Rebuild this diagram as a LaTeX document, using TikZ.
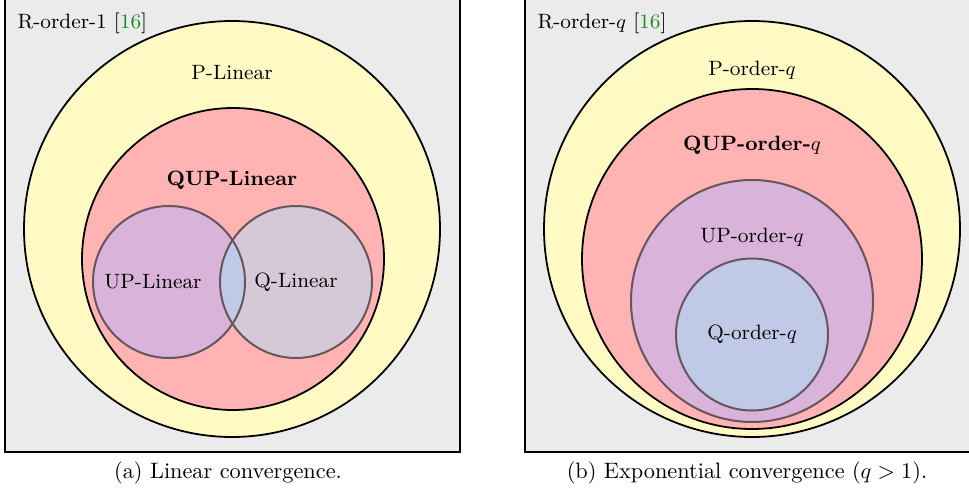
\documentclass[tikz,border=0pt]{standalone}
\usepackage{tikz}
\usepackage{xcolor}

\definecolor{boxgray}{HTML}{EBEBEB}
\definecolor{pyellow}{HTML}{FFF9C4}
\definecolor{qupred}{HTML}{FFB3B3}
\definecolor{uppurple}{HTML}{D9B3D9}
\definecolor{qgray}{HTML}{D6C9D7}
\definecolor{qblue}{HTML}{C0CAE6}
\definecolor{innerline}{HTML}{66565E}
\definecolor{citegreen}{HTML}{1E8C1E}

\tikzset{
  setbox/.style={fill=boxgray, draw=black, line width=0.9pt},
  outerset/.style={draw=black, line width=0.8pt},
  innerset/.style={draw=innerline, line width=0.9pt},
  setlabel/.style={font=\fontsize{9.3}{11}\selectfont, inner sep=1pt},
  caption/.style={font=\fontsize{10}{12}\selectfont}
}

\begin{document}
\begin{tikzpicture}[x=0.4485pt, y=-0.4485pt]
  \useasboundingbox (0,0) rectangle (969,491);

  % left panel: linear convergence
  \fill[boxgray] (5,-10) rectangle (460,452);
  \draw[setbox] (5,-10) rectangle (460,452);
  \fill[pyellow] (232,229) circle (208);
  \draw[outerset] (232,229) circle (208);
  \fill[qupred] (233,259) circle (151);
  \draw[outerset] (233,259) circle (151);
  \fill[uppurple] (169,282) circle (76);
  \fill[qgray] (296,282) circle (76);
  \begin{scope}
    \clip (169,282) circle (76);
    \fill[qblue] (296,282) circle (76);
  \end{scope}
  \draw[innerset] (169,282) circle (76);
  \draw[innerset] (296,282) circle (76);

  \node[setlabel, anchor=west] (rlin) at (15,23) {R-order-1 [\textcolor{citegreen}{16}]};
  \node[setlabel] (plin) at (232,73) {P-Linear};
  \node[setlabel] (quplin) at (232,180) {\textbf{QUP-Linear}};
  \node[setlabel] (uplin) at (153,282) {UP-Linear};
  \node[setlabel] (qlin) at (296,282) {Q-Linear};
  \node[caption] (capa) at (228,473) {(a) Linear convergence.};

  % right panel: exponential convergence
  \fill[boxgray] (525,-10) rectangle (990,452);
  \draw[setbox] (525,-10) rectangle (990,452);
  \fill[pyellow] (752,229) circle (208);
  \draw[outerset] (752,229) circle (208);
  \fill[qupred] (752,259) circle (170);
  \draw[outerset] (752,259) circle (170);
  \fill[uppurple] (752,301) circle (121);
  \draw[innerset] (752,301) circle (121);
  \fill[qblue] (752,334.5) circle (76);
  \draw[innerset] (752,334.5) circle (76);

  \node[setlabel, anchor=west] (rord) at (535,23) {R-order-$q$ [\textcolor{citegreen}{16}]};
  \node[setlabel] (pord) at (752,70) {P-order-$q$};
  \node[setlabel] (qupord) at (752,145) {\textbf{QUP-order-}$q$};
  \node[setlabel] (upord) at (752,237) {UP-order-$q$};
  \node[setlabel] (qord) at (752,334) {Q-order-$q$};
  \node[caption] (capb) at (747,473) {(b) Exponential convergence ($q>1$).};
\end{tikzpicture}
\end{document}
